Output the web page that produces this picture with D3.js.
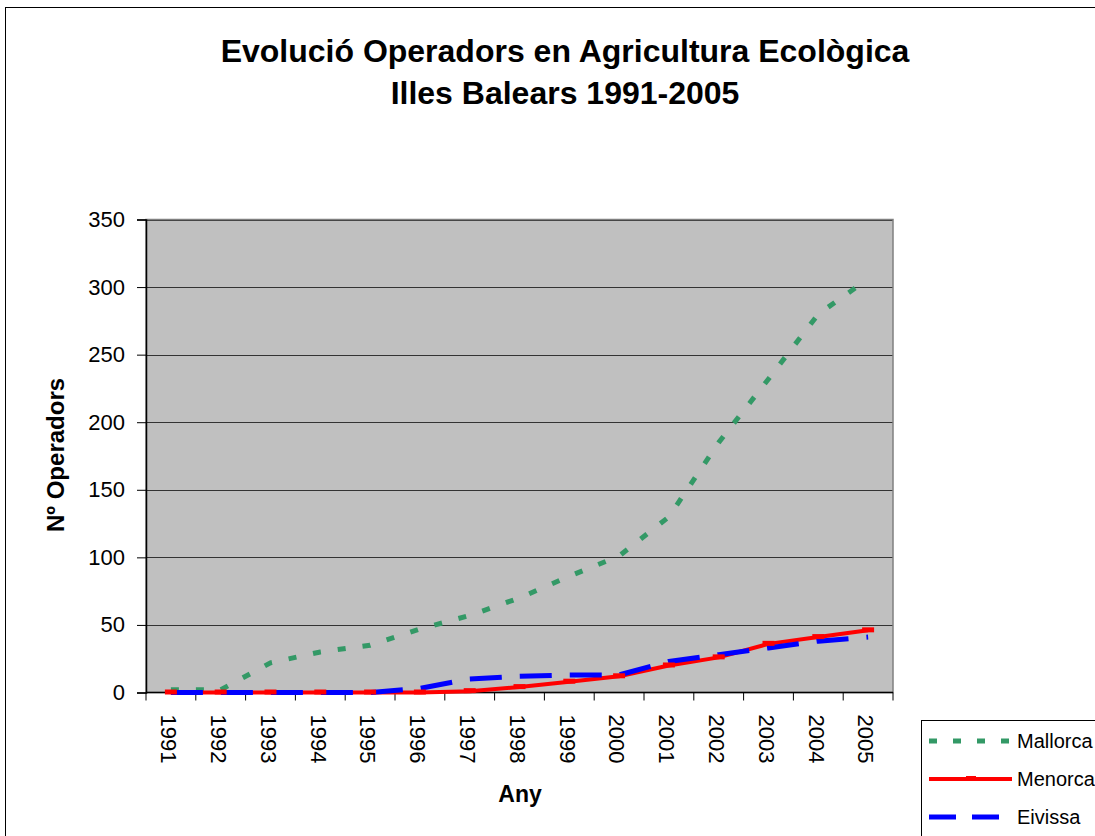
<!DOCTYPE html>
<html><head><meta charset="utf-8">
<script src="https://cdn.jsdelivr.net/npm/d3@7"></script>
<style>body{margin:0;background:#fff}svg{display:block}text{font-family:"Liberation Sans",Arial,sans-serif}</style>
</head><body>
<script>
const years = ["1991","1992","1993","1994","1995","1996","1997","1998","1999","2000","2001","2002","2003","2004","2005"];
const mallorca = [2,2,22,30,35,47,57,70,86,101,130,185,232,280,306];
const menorca  = [0,0,0,0,0,0,1,4,8,12,20,26,36,41,46];
const eivissa  = [0,0,0,0,0,3,10,12,13,13,23,28,33,38,41];
const yTicks = [0,50,100,150,200,250,300,350];
const seriesNames = ["Mallorca","Menorca","Eivissa"];
const title1 = "Evolució Operadors en Agricultura Ecològica";
const title2 = "Illes Balears 1991-2005";

const W=1095,H=836;
const svg=d3.select("body").append("svg").attr("width",W).attr("height",H);
svg.append("rect").attr("x",5.5).attr("y",7.5).attr("width",1200).attr("height",1000).attr("fill","#fff").attr("stroke","#000").attr("stroke-width",1);

const L=146,R=893,T=219.5,B=692.5;
const x=d3.scaleBand().domain(years).range([L,R]);
const y=d3.scaleLinear().domain([0,350]).range([B,T]);

svg.append("rect").attr("x",L).attr("y",T).attr("width",R-L).attr("height",B-T).attr("fill","#C0C0C0");
svg.append("g").selectAll("line").data(yTicks.slice(1)).join("line")
  .attr("x1",L).attr("x2",R).attr("y1",d=>Math.round(y(d))+0.5).attr("y2",d=>Math.round(y(d))+0.5)
  .attr("stroke","#333").attr("stroke-width",1.2);
svg.append("rect").attr("x",L).attr("y",T).attr("width",R-L).attr("height",B-T).attr("fill","none").attr("stroke","#808080").attr("stroke-width",1.5);

const ya=svg.append("g").attr("transform",`translate(${L},0)`).call(d3.axisLeft(y).tickValues(yTicks).tickSize(9).tickPadding(12));
ya.select(".domain").attr("stroke","#000").attr("stroke-width",1.5);
ya.selectAll("line").attr("stroke","#000");
ya.selectAll("text").attr("font-size",22).attr("fill","#000").style("font-family","Liberation Sans, Arial");

const xa=svg.append("g").attr("transform",`translate(0,${B})`);
xa.append("line").attr("x1",L).attr("x2",R).attr("y1",0).attr("y2",0).attr("stroke","#000").attr("stroke-width",1.5);
xa.selectAll("line.t").data(years.concat(["end"])).join("line").attr("class","t")
  .attr("x1",(d,i)=>i<years.length?x(d):R).attr("x2",(d,i)=>i<years.length?x(d):R)
  .attr("y1",0).attr("y2",8).attr("stroke","#000");
xa.selectAll("text").data(years).join("text")
  .attr("transform",d=>`translate(${x(d)+x.bandwidth()/2-2},22) rotate(90)`)
  .attr("dy","0.35em").attr("font-size",22).attr("fill","#000").text(d=>d);

svg.append("text").attr("x",565).attr("y",62).attr("text-anchor","middle").attr("font-size",32).attr("font-weight","bold").text(title1);
svg.append("text").attr("x",565).attr("y",104).attr("text-anchor","middle").attr("font-size",32).attr("font-weight","bold").text(title2);
svg.append("text").attr("transform","translate(64,455) rotate(-90)").attr("text-anchor","middle").attr("font-size",24).attr("font-weight","bold").text("Nº Operadors");
svg.append("text").attr("x",520).attr("y",802).attr("text-anchor","middle").attr("font-size",23).attr("font-weight","bold").text("Any");

const cx=d=>x(d)+x.bandwidth()/2;
const line=d3.line().x((d,i)=>cx(years[i])).y(d=>y(d));
const styles=[
  {data:mallorca,color:"#339966",w:5,dash:"8,17"},
  {data:menorca,color:"#FF0000",w:4,dash:null},
  {data:eivissa,color:"#0000FF",w:5,dash:"32,18"}
];
styles.forEach(s=>{
  const p=svg.append("path").attr("d",line(s.data)).attr("fill","none").attr("stroke",s.color).attr("stroke-width",s.w);
  if(s.dash)p.attr("stroke-dasharray",s.dash);
});
svg.append("g").selectAll("rect").data(menorca).join("rect")
  .attr("x",(d,i)=>cx(years[i])-6).attr("y",d=>y(d)-3).attr("width",12).attr("height",5).attr("fill","#FF0000");

const lg=svg.append("g");
lg.append("rect").attr("x",921.5).attr("y",720.5).attr("width",300).attr("height",200).attr("fill","#fff").attr("stroke","#000");
seriesNames.forEach((n,i)=>{
  const s=styles[i], yy=741+i*38;
  const l=lg.append("line").attr("x1",929).attr("x2",1012).attr("y1",yy).attr("y2",yy).attr("stroke",s.color).attr("stroke-width",s.w);
  if(i===0)l.attr("stroke-dasharray","8,16");
  if(i===2)l.attr("stroke-dasharray","27,16");
  if(i===1)lg.append("rect").attr("x",966).attr("y",yy-3).attr("width",10).attr("height",5).attr("fill","#FF0000");
  lg.append("text").attr("x",1017).attr("y",yy+7).attr("font-size",20).text(n);
});
</script>
</body></html>
